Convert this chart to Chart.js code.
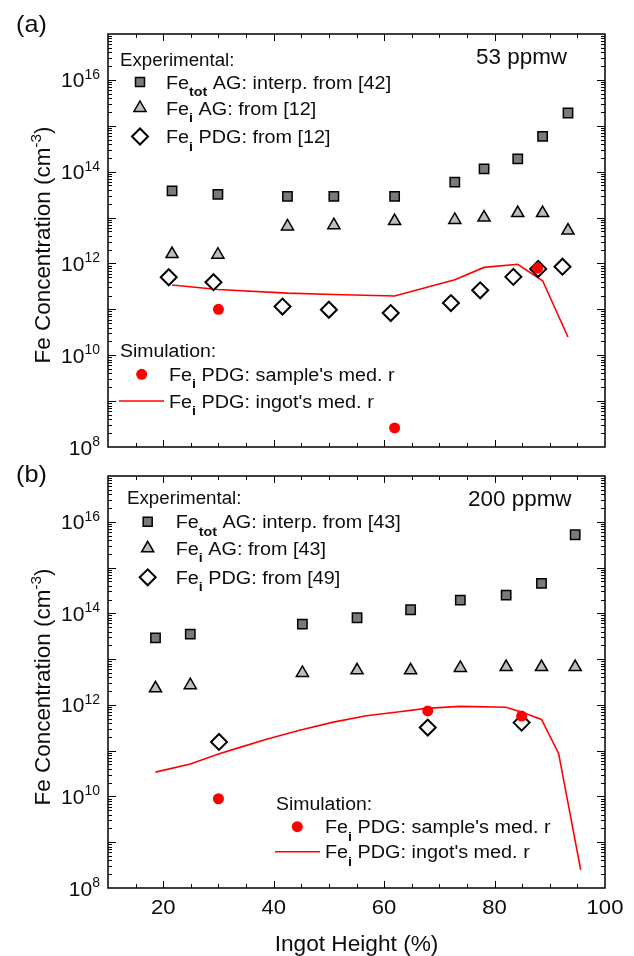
<!DOCTYPE html>
<html>
<head>
<meta charset="utf-8">
<title>Fe concentration vs ingot height</title>
<script src="https://cdn.jsdelivr.net/npm/chart.js@4.4.1/dist/chart.umd.min.js"></script>
<style>
  html, body { margin: 0; padding: 0; background: #fff; }
  #wrap { position: relative; width: 634px; height: 956px; }
  .panel { position: absolute; left: 0; width: 634px; }
</style>
</head>
<body>
<div id="wrap">
  <div class="panel" style="top:0;height:462px"><canvas id="chartA"></canvas></div>
  <div class="panel" style="top:462px;height:494px"><canvas id="chartB"></canvas></div>
</div>
<script>
/* ---- (a) 53 ppmw ---- */
const heightA      = [21.6, 29.9, 42.5, 50.9, 61.9, 72.8, 78.1, 84.2, 88.7, 93.3];
const feTotA       = [3.8e13, 3.2e13, 2.9e13, 2.9e13, 2.9e13, 5.9e13, 1.15e14, 1.9e14, 5.9e14, 1.9e15];
const feiAgA       = [1.6e12, 1.55e12, 6.4e12, 6.8e12, 8.4e12, 8.9e12, 1.0e13, 1.25e13, 1.25e13, 5.2e12];
const pdgHeightA   = [21.0, 29.1, 41.6, 50.0, 61.2, 72.1, 77.4, 83.4, 87.9, 92.3];
const feiPdgA      = [5.0e11, 3.9e11, 1.15e11, 9.8e10, 8.3e10, 1.37e11, 2.6e11, 5.1e11, 7.6e11, 8.5e11];
const sampleHeightA = [30.0, 61.9, 87.8];
const sampleSimA    = [1.0e11, 2.6e8, 7.9e11];
const ingotHeightA  = [21.6, 29.9, 42.5, 50.9, 61.9, 72.8, 78.1, 84.2, 88.7, 93.3];
const ingotSimA     = [3.4e11, 2.7e11, 2.25e11, 2.1e11, 1.95e11, 4.4e11, 8.2e11, 9.6e11, 4.2e11, 2.5e10];

/* ---- (b) 200 ppmw ---- */
const heightB      = [18.6, 24.9, 45.2, 55.1, 64.8, 73.8, 82.1, 88.5, 94.6];
const feTotB       = [2.9e13, 3.5e13, 5.8e13, 8.0e13, 1.2e14, 1.95e14, 2.5e14, 4.5e14, 5.2e15];
const feiAgB       = [2.3e12, 2.7e12, 5.0e12, 5.7e12, 5.7e12, 6.4e12, 6.7e12, 6.7e12, 6.7e12];
const pdgHeightB   = [30.1, 67.9, 84.9];
const feiPdgB      = [1.55e11, 3.2e11, 4.1e11];
const sampleHeightB = [30.0, 67.9, 84.9];
const sampleSimB    = [8.9e9, 7.4e11, 5.7e11];
const ingotHeightB  = [18.6, 24.9, 30.0, 33.9, 38.7, 44.7, 50.8, 56.8, 62.8, 67.6, 73.8, 82.1, 85.5, 88.5, 91.6, 95.6];
const ingotSimB     = [3.4e10, 5.1e10, 8.5e10, 1.18e11, 1.77e11, 2.8e11, 4.2e11, 5.8e11, 7.1e11, 8.4e11, 9.3e11, 8.9e11, 6.6e11, 4.8e11, 8.7e10, 2.5e8];

/* axes */
const xRange      = [10, 100];
const yRange      = [1e8, 1e17];
const xTickLabels = [20, 40, 60, 80, 100];
const yLabelExps  = [8, 10, 12, 14, 16];

const FONT = '"Liberation Sans", Arial, Helvetica, sans-serif';
const INK = '#0d0d0d';
const SQ_FILL = '#7a7a7a', TRI_FILL = '#bdbdbd', RED = '#ff0000';

function fnt(size, bold) { return (bold ? 'bold ' : '') + size + 'px ' + FONT; }
function pts(xs, ys) { return xs.map((x, i) => ({ x: x, y: ys[i] })); }

// rich text: runs of {t, sub, sup, bold}
function runSize(r, size, small) { return (r.sub || r.sup) ? small : size; }
function runsWidth(ctx, runs, size, small, sx) {
  let w = 0;
  runs.forEach(r => { ctx.font = fnt(runSize(r, size, small), r.bold); w += ctx.measureText(r.t).width * sx; });
  return w;
}
function drawRuns(ctx, runs, x, y, o) {
  const size = o.size, small = o.small || Math.round(size * 0.72), sx = o.sx || 1;
  ctx.save();
  ctx.fillStyle = INK;
  ctx.textBaseline = 'alphabetic';
  ctx.textAlign = 'left';
  if (o.align === 'right') x -= runsWidth(ctx, runs, size, small, sx);
  if (o.align === 'center') x -= runsWidth(ctx, runs, size, small, sx) / 2;
  runs.forEach(r => {
    const s = runSize(r, size, small);
    const dy = r.sub ? (o.subDy || size * 0.36) : r.sup ? -(o.supDy || size * 0.42) : 0;
    ctx.font = fnt(s, r.bold);
    ctx.save();
    ctx.translate(x, y + dy);
    ctx.scale(sx, 1);
    ctx.fillText(r.t, 0, 0);
    ctx.restore();
    x += ctx.measureText(r.t).width * sx;
  });
  ctx.restore();
}

// legend symbols, same look as the dataset points
function drawMark(ctx, kind, x, y) {
  ctx.save();
  ctx.strokeStyle = '#000';
  ctx.lineJoin = 'miter';
  ctx.beginPath();
  if (kind === 'square') {
    ctx.rect(x - 4.5, y - 4.5, 9, 9);
    ctx.fillStyle = SQ_FILL; ctx.lineWidth = 1.5; ctx.fill(); ctx.stroke();
  } else if (kind === 'triangle') {
    const r = 7;
    ctx.moveTo(x, y - r);
    ctx.lineTo(x + r * 0.866, y + r / 2);
    ctx.lineTo(x - r * 0.866, y + r / 2);
    ctx.closePath();
    ctx.fillStyle = TRI_FILL; ctx.lineWidth = 1.5; ctx.fill(); ctx.stroke();
  } else if (kind === 'diamond') {
    const r = 8;
    ctx.moveTo(x - r, y); ctx.lineTo(x, y - r); ctx.lineTo(x + r, y); ctx.lineTo(x, y + r);
    ctx.closePath();
    ctx.fillStyle = '#fff'; ctx.lineWidth = 2; ctx.fill(); ctx.stroke();
  } else if (kind === 'dot') {
    ctx.arc(x, y, 5.5, 0, Math.PI * 2);
    ctx.fillStyle = RED; ctx.fill();
  }
  ctx.restore();
}

const LEG = 18, LEG_SX = 1.1;
const fe = (sub, rest) => [{ t: 'Fe' }, { t: sub, sub: true, bold: true }, { t: rest }];

// frame, inward ticks, tick labels, titles and legend blocks
const panelDecor = {
  id: 'panelDecor',
  afterDraw(chart, args, o) {
    const ctx = chart.ctx, a = chart.chartArea;
    const xs = chart.scales.x, ys = chart.scales.y;
    ctx.save();
    ctx.strokeStyle = '#000';
    ctx.lineWidth = 1;
    ctx.beginPath();
    for (let v = xRange[0] + 5; v < xRange[1]; v += 5) {
      const px = Math.round(xs.getPixelForValue(v)) + 0.5;
      const len = v % 20 === 0 ? 7 : 4;
      ctx.moveTo(px, a.bottom); ctx.lineTo(px, a.bottom - len);
      ctx.moveTo(px, a.top); ctx.lineTo(px, a.top + len);
    }
    for (let e = 8; e <= 16; e++) {
      for (let m = 1; m <= 9; m++) {
        if (e === 8 && m === 1) continue;
        const py = Math.round(ys.getPixelForValue(m * Math.pow(10, e))) + 0.5;
        const len = m === 1 ? 8 : 4;
        ctx.moveTo(a.left, py); ctx.lineTo(a.left + len, py);
        ctx.moveTo(a.right, py); ctx.lineTo(a.right - len, py);
      }
    }
    ctx.stroke();
    ctx.lineWidth = 1.5;
    ctx.strokeRect(a.left, a.top, a.right - a.left, a.bottom - a.top);
    ctx.restore();

    // y tick labels 10^n
    yLabelExps.forEach(e => {
      const py = ys.getPixelForValue(Math.pow(10, e));
      drawRuns(ctx, [{ t: '10' }, { t: String(e), sup: true }], a.left - 8, py + 7.5,
        { size: 21, small: 14, supDy: 8.5, align: 'right' });
    });
    // x tick labels + title only under the lower panel
    if (o.xLabels) {
      xTickLabels.forEach(v => {
        drawRuns(ctx, [{ t: String(v) }], xs.getPixelForValue(v), a.bottom + 26,
          { size: 21, sx: 1.05, align: 'center' });
      });
      drawRuns(ctx, [{ t: 'Ingot Height (%)' }], (a.left + a.right) / 2, a.bottom + 62.5,
        { size: 22, sx: 1.03, align: 'center' });
    }
    // y title
    ctx.save();
    ctx.translate(50, a.top + 211);
    ctx.rotate(-Math.PI / 2);
    drawRuns(ctx, [{ t: 'Fe Concentration (cm' }, { t: '-3', sup: true }, { t: ')' }], 0, 0,
      { size: 22, small: 15, supDy: 9, sx: 1.02, align: 'center' });
    ctx.restore();

    // panel tag and doping level
    drawRuns(ctx, [{ t: o.tag }], 16, o.tagY, { size: 24, sx: 1.05 });
    drawRuns(ctx, [{ t: o.ppm }], o.ppmX, o.ppmY + 8, { size: 22, sx: 1.02 });

    // experimental legend
    const L = o.exp;
    drawRuns(ctx, [{ t: 'Experimental:' }], L.x, L.y + 6.5, { size: LEG, sx: 1.04 });
    const expRows = [
      ['square', fe('tot', ' AG: interp. from ' + o.refs[0])],
      ['triangle', fe('i', ' AG: from ' + o.refs[1])],
      ['diamond', fe('i', ' PDG: from ' + o.refs[2])]
    ];
    expRows.forEach((row, i) => {
      drawMark(ctx, row[0], L.markX, L.rows[i]);
      drawRuns(ctx, row[1], L.textX, L.rows[i] + 6.5, { size: LEG, small: 13, subDy: 7.5, sx: LEG_SX });
    });

    // simulation legend
    const S = o.sim;
    drawRuns(ctx, [{ t: 'Simulation:' }], S.x, S.y + 6.5, { size: LEG, sx: 1.08 });
    drawMark(ctx, 'dot', S.markX, S.dotY);
    drawRuns(ctx, fe('i', ' PDG: sample\'s med. r'), S.textX, S.dotY + 6.5, { size: LEG, small: 13, subDy: 7.5, sx: LEG_SX });
    ctx.save();
    ctx.strokeStyle = RED; ctx.lineWidth = 1.6;
    ctx.beginPath(); ctx.moveTo(S.lineX0, S.lineY); ctx.lineTo(S.lineX1, S.lineY); ctx.stroke();
    ctx.restore();
    drawRuns(ctx, fe('i', ' PDG: ingot\'s med. r'), S.textX, S.lineY + 6.5, { size: LEG, small: 13, subDy: 7.5, sx: LEG_SX });
  }
};

function makeChart(id, d, decor, pad) {
  return new Chart(document.getElementById(id), {
    type: 'scatter',
    data: {
      datasets: [
        { label: 'sample', data: pts(d.sampleX, d.sampleY), order: 0,
          pointStyle: 'circle', pointRadius: 5.5, backgroundColor: RED, borderColor: RED, borderWidth: 0 },
        { label: 'pdg', data: pts(d.pdgX, d.pdgY), order: 1,
          pointStyle: 'rectRot', pointRadius: 8, backgroundColor: '#fff', borderColor: '#000', borderWidth: 2 },
        { label: 'ingot', data: pts(d.ingotX, d.ingotY), order: 2, showLine: true,
          pointRadius: 0, borderColor: RED, borderWidth: 1.6, fill: false, tension: 0 },
        { label: 'feiAg', data: pts(d.hX, d.agY), order: 3,
          pointStyle: 'triangle', pointRadius: 7, backgroundColor: TRI_FILL, borderColor: '#000', borderWidth: 1.5 },
        { label: 'feTot', data: pts(d.hX, d.totY), order: 4,
          pointStyle: 'rect', pointRadius: 6.6, backgroundColor: SQ_FILL, borderColor: '#000', borderWidth: 1.5 }
      ]
    },
    options: {
      responsive: true, maintainAspectRatio: false, animation: false, devicePixelRatio: 1,
      layout: { padding: pad },
      plugins: { legend: { display: false }, tooltip: { enabled: false }, panelDecor: decor },
      scales: {
        x: { type: 'linear', min: xRange[0], max: xRange[1], display: false },
        y: { type: 'logarithmic', min: yRange[0], max: yRange[1], display: false }
      }
    },
    plugins: [panelDecor]
  });
}

makeChart('chartA', {
  hX: heightA, totY: feTotA, agY: feiAgA, pdgX: pdgHeightA, pdgY: feiPdgA,
  sampleX: sampleHeightA, sampleY: sampleSimA, ingotX: ingotHeightA, ingotY: ingotSimA
}, {
  tag: '(a)', tagY: 31.7, ppm: '53 ppmw', ppmX: 476, ppmY: 56, xLabels: false,
  refs: ['[42]', '[12]', '[12]'],
  exp: { x: 120, y: 59, rows: [82, 108, 136.5], markX: 140, textX: 166 },
  sim: { x: 120, y: 350, dotY: 374.3, lineY: 401, markX: 141.7, lineX0: 119, lineX1: 164, textX: 169 }
}, { left: 108, right: 29, top: 34, bottom: 15 });

makeChart('chartB', {
  hX: heightB, totY: feTotB, agY: feiAgB, pdgX: pdgHeightB, pdgY: feiPdgB,
  sampleX: sampleHeightB, sampleY: sampleSimB, ingotX: ingotHeightB, ingotY: ingotSimB
}, {
  tag: '(b)', tagY: 19.7, ppm: '200 ppmw', ppmX: 468, ppmY: 35.7, xLabels: true,
  refs: ['[43]', '[43]', '[49]'],
  exp: { x: 127, y: 35.7, rows: [59.7, 86.3, 115.3], markX: 147.7, textX: 175.7 },
  sim: { x: 276, y: 341.3, dotY: 364.7, lineY: 389.7, markX: 297.3, lineX0: 275, lineX1: 320, textX: 325 }
}, { left: 108, right: 29, top: 14, bottom: 68 });
</script>
</body>
</html>
